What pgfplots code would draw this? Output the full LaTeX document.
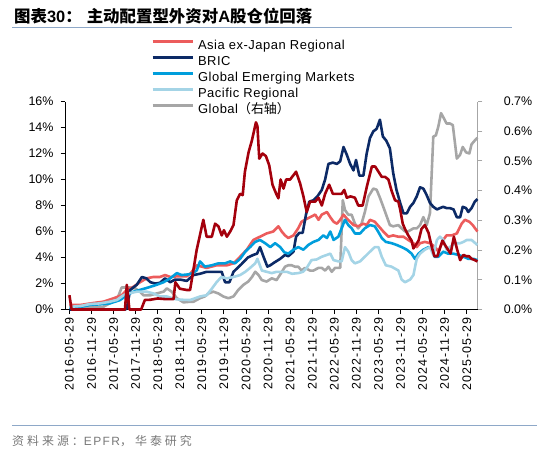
\documentclass[border=0pt]{standalone}
\usepackage{pgfplots}
\pgfplotsset{compat=1.18}
\usepackage{fontspec}
\setmainfont{Liberation Sans}
\newfontfamily\cjk{Noto Sans CJK SC}
\newfontfamily\xlab{Liberation Sans}[LetterSpace=8]
\newfontfamily\leg{Liberation Sans}[LetterSpace=4]
\newfontfamily\srccjk{Noto Sans CJK SC}[LetterSpace=25]
\newfontfamily\srclat{Liberation Sans}[LetterSpace=12]

\definecolor{asia}{RGB}{236,92,92}
\definecolor{bric}{RGB}{12,42,102}
\definecolor{gem}{RGB}{0,158,220}
\definecolor{pac}{RGB}{164,212,230}
\definecolor{glob}{RGB}{166,166,166}
\definecolor{dred}{RGB}{164,0,12}
\definecolor{rulec}{RGB}{142,168,200}
\definecolor{srcgray}{RGB}{120,120,120}

% x = months since 2016-05
\pgfplotsset{base/.style={
  at={(65bp,-309.5bp)}, anchor=south west,
  scale only axis, width=412.8bp, height=208bp,
  xmin=-1.2, xmax=111, clip=false,
  tick align=outside, major tick length=4.5bp,
  ticklabel style={font=\fontsize{12.5}{14}\selectfont},
  every axis plot/.append style={line width=2.6bp, line join=round},
}}

\begin{document}
\begin{tikzpicture}

% right axis: Global
\begin{axis}[base,
  ymin=0, ymax=0.7,
  axis x line=none, axis y line*=right,
  y axis line style={-, glob, line width=1bp},
  ytick style={glob, line width=1bp},
  ytick={0,0.1,0.2,0.3,0.4,0.5,0.6,0.7},
  yticklabels={0.0\%,0.1\%,0.2\%,0.3\%,0.4\%,0.5\%,0.6\%,0.7\%},
  yticklabel style={xshift=18bp},
]
\addplot[glob] coordinates {
(0,0.009) (9.2,0.009) (11,0.021) (12.9,0.032) (14.2,0.074) (16.5,0.074) (17.9,0.071)
(19.2,0.060) (20.1,0.048) (22,0.048) (23.7,0.054) (25.6,0.060) (26.5,0.071) (27.8,0.060)
(29.2,0.038) (31,0.024) (32.8,0.026) (33.7,0.026) (35.5,0.038) (36.8,0.044) (37.8,0.054)
(39.1,0.060) (40.5,0.054) (41.8,0.044) (43.2,0.038) (44.6,0.044) (45.9,0.066) (47.3,0.083)
(48.6,0.094) (49.6,0.109) (50.5,0.127) (51.4,0.116) (52.3,0.099) (53.6,0.094) (55,0.105)
(56.3,0.099) (57.3,0.118) (58.6,0.144) (59.5,0.149) (60.4,0.149) (61.3,0.144) (62.2,0.144)
(63.1,0.131) (64,0.140) (65.4,0.131) (66.3,0.131) (67.7,0.140) (68.6,0.140) (69.5,0.131)
(70.4,0.144) (71.3,0.127) (72.2,0.140) (73.6,0.140) (74.3,0.368) (74.9,0.335) (75.8,0.319)
(76.7,0.319) (77.6,0.289) (78.5,0.273) (79.4,0.289) (80.3,0.328) (81.3,0.381) (82.6,0.407)
(83.5,0.403) (84.4,0.376) (85.3,0.346) (86.2,0.315) (87.1,0.284) (88,0.280) (89.4,0.284)
(90.3,0.273) (91.2,0.263) (92.1,0.263) (93.5,0.273) (94.4,0.273) (95.3,0.284) (96.2,0.311)
(97.1,0.284) (98,0.324) (98.9,0.582) (99.6,0.586) (100.3,0.617) (101,0.661) (101.8,0.643)
(102.5,0.626) (103.4,0.626) (104.2,0.621) (105.3,0.508) (106.2,0.521) (106.9,0.547)
(107.8,0.529) (108.7,0.525) (109.3,0.556) (110.2,0.569) (110.9,0.578)
};
\end{axis}

% left axis
\begin{axis}[base,
  ymin=0, ymax=16,
  axis y line*=left, axis x line*=bottom,
  axis line style={-, black, line width=1bp},
  tick style={black, line width=1bp},
  ytick={0,2,4,6,8,10,12,14,16},
  yticklabels={0\%,2\%,4\%,6\%,8\%,10\%,12\%,14\%,16\%},
  yticklabel style={xshift=-3.5bp},
  xtick={0,6,...,108},
  xticklabels={2016-05-29,2016-11-29,2017-05-29,2017-11-29,2018-05-29,2018-11-29,
    2019-05-29,2019-11-29,2020-05-29,2020-11-29,2021-05-29,2021-11-29,2022-05-29,
    2022-11-29,2023-05-29,2023-11-29,2024-05-29,2024-11-29,2025-05-29},
  xticklabel style={rotate=90, anchor=east, font=\xlab\fontsize{12.5}{14}\selectfont},
  legend style={at={(axis description cs:0.208,1.299)}, anchor=north west,
    draw=none, fill=none, inner sep=0pt, row sep=3.65bp, column sep=4bp,
    font=\leg\fontsize{13}{15}\selectfont,
    nodes={inner sep=0pt, text height=9.5bp, text depth=3bp}},
  legend cell align=left,
  legend image code/.code={\draw[#1, line width=3bp] (0bp,4.5bp) -- (40bp,4.5bp);},
]
\addplot[asia] coordinates {
(0,0.35) (3,0.35) (6.5,0.5) (9.2,0.6) (12,0.86) (14.2,1.1) (15.6,1.5) (17.4,1.75)
(19.2,2.1) (21,2.4) (22.8,2.5) (24.6,2.5) (26,2.65) (27.4,2.5) (29.2,2.55) (31.9,2.55)
(33,2.8) (34.6,3.4) (37.3,3.2) (40,3.4) (42.8,3.4) (44.6,3.55) (46.4,4.06) (48.2,4.6)
(50,5.35) (51.8,5.6) (53.6,5.85) (55.4,6.0) (56.8,6.4) (57.7,6.0) (58.6,5.7) (59.5,5.5)
(60.9,5.7) (62.2,6.25) (63.1,6.75) (64,6.9) (65.4,7.1) (66.8,7.3) (67.7,6.9) (68.6,7.3)
(70,7.5) (70.9,7.1) (71.8,6.75) (72.7,6.6) (73.6,6.9) (74.5,7.3) (75.4,7.0) (76.3,6.75)
(77.2,6.5) (78.5,6.4) (79.9,6.6) (80.8,6.5) (81.7,6.9) (83,6.75) (84.4,6.3) (85.3,6.0)
(86.7,5.6) (88,5.7) (89.4,5.6) (90.8,5.6) (92.1,5.35) (93.5,5.1) (94.4,4.8) (95.3,5.1)
(96.6,5.2) (98,5.1) (99.4,4.8) (100.3,4.45) (101.6,5.35) (102.5,5.7) (103.9,5.7)
(105.3,5.85) (106.6,6.6) (107.5,6.9) (108.7,6.75) (109.6,6.5) (110.9,6.0)
};
\addlegendentry{Asia ex-Japan Regional}
\addplot[bric] coordinates {
(0,0) (15.2,0) (15.6,0.1) (16.5,1.5) (18.3,1.9) (19.7,2.5) (20.9,2.4) (22,2.1) (23.3,2.0)
(24.6,2.05) (26,2.4) (27.4,2.1) (28.7,2.3) (30.1,2.3) (31.9,2.2) (33.7,2.65) (35.5,2.75)
(37.3,2.9) (39.5,2.9) (41.4,2.9) (42.3,2.1) (43.5,2.1) (44.6,2.9) (46.8,3.5) (48.5,4.0)
(50,4.2) (51,4.3) (51.8,4.8) (52.7,4.1) (53.8,3.3) (54.6,3.4) (55.6,3.6) (57.3,3.9)
(58.6,4.2) (59.5,4.1) (60.3,4.3) (60.9,4.45) (61.6,5.6) (62.5,5.9) (63.4,5.9) (64.3,7.3)
(65.2,8.3) (66.3,8.4) (67.4,8.7) (68.6,9.2) (69.5,10.0) (70.4,11.2) (71.6,11.3) (72.7,11.2)
(73.6,11.4) (74.5,12.5) (75.4,11.9) (76.3,11.2) (77.2,10.7) (77.9,11.5) (78.8,10.3)
(79.9,10.3) (80.8,12.0) (81.7,13.2) (82.6,13.7) (83.5,13.9) (84.4,14.6) (85.2,13.3)
(86.1,13.0) (87.1,12.4) (88,10.5) (88.9,9.2) (89.9,8.2) (90.8,7.4) (91.7,7.4) (92.6,7.9)
(93.5,8.2) (94.4,8.7) (95.3,9.4) (96.2,9.3) (97.1,8.8) (98,8.2) (98.9,7.9) (99.9,7.7)
(100.7,7.8) (101.6,7.9) (102.5,7.8) (103.4,7.8) (104.4,7.7) (105.3,7.1) (106.2,7.1)
(106.9,7.9) (107.8,7.8) (108.4,7.5) (109.3,7.8) (110.2,8.3) (110.9,8.5)
};
\addlegendentry{BRIC}
\addplot[gem] coordinates {
(0,0.15) (3,0.2) (5.6,0.35) (8.3,0.4) (11,0.47) (13.8,0.73) (15.6,1.1) (17.4,1.37)
(19.7,1.55) (21.5,1.7) (23.7,1.9) (25.6,2.1) (27.4,2.4) (29.2,2.8) (30.5,2.65) (32.3,2.7)
(33.5,2.8) (34.6,3.0) (35.5,3.7) (36.8,3.3) (38.7,3.4) (40.5,3.55) (42.3,3.55) (43.7,3.7)
(45,3.55) (46.4,3.9) (47.8,4.45) (49.1,4.8) (50.5,5.2) (51.8,5.35) (53.2,5.1) (54.6,4.8)
(55.9,5.1) (57.3,4.8) (58.4,4.4) (59.5,4.3) (60.9,4.6) (62.2,4.8) (63.6,4.6) (64.9,4.96)
(66.3,5.2) (67.7,5.35) (69,5.7) (70,5.5) (70.9,6.0) (71.8,5.35) (73.1,5.6) (74,6.25)
(74.9,6.9) (75.8,6.5) (76.7,6.25) (77.6,5.85) (79,5.85) (80.3,6.25) (81.7,6.5) (83,6.4)
(83.9,6.0) (84.9,5.5) (86,5.2) (87.6,5.1) (89,4.96) (90.3,4.8) (91.7,4.6) (93,4.3)
(93.9,3.9) (94.9,4.3) (96.2,4.6) (97.6,4.8) (98.5,4.7) (99.2,4.06) (100.3,4.06)
(101.6,4.45) (102.9,4.3) (104.3,4.3) (105.7,4.2) (107.1,4.06) (108.4,3.9) (109.8,3.9)
(110.9,3.8)
};
\addlegendentry{Global Emerging Markets}
\addplot[pac] coordinates {
(0,0.2) (3,0.27) (5.6,0.42) (8.3,0.47) (11,0.6) (12.9,0.73) (14.7,1.1) (16,1.24)
(18.3,1.37) (21,1.37) (22.8,1.24) (24.6,1.0) (26.5,1.0) (28.7,0.8) (30.5,0.75) (32.8,0.73)
(35.5,1.0) (37.3,1.1) (38.7,1.6) (40,2.1) (41.3,2.5) (42.8,2.4) (44.6,2.5) (46.4,2.65)
(47.8,2.9) (49.1,3.2) (50.5,3.55) (51.1,3.9) (52.3,3.0) (53.6,2.9) (55,2.8) (56.3,2.9)
(57.7,2.9) (59.1,2.9) (60.5,2.75) (62.2,2.8) (63.5,2.9) (64.5,3.2) (65.8,3.8) (67.2,3.85)
(68.6,4.06) (70,4.2) (70.9,4.3) (71.8,3.8) (73.1,3.7) (74,3.7) (74.9,4.8) (75.8,4.45)
(76.7,3.8) (77.6,3.55) (79,3.7) (80.3,4.06) (81.7,4.45) (83,4.8) (84,4.8) (84.9,4.06)
(86,3.4) (87.5,3.3) (89.4,3.0) (90.3,2.3) (91.2,2.1) (92.6,2.3) (93.5,2.65) (94.4,3.9)
(95.3,4.3) (96.6,4.6) (98,4.8) (98.9,4.2) (99.9,5.35) (100.7,5.6) (101.6,5.35)
(102.5,4.6) (103.4,4.8) (104.8,5.1) (106.2,5.1) (107.1,5.2) (108,5.35) (109.3,5.35)
(110.9,4.96)
};
\addlegendentry{Pacific Regional}
\addlegendimage{glob}
\addlegendentry{Global{\cjk （右轴）}}
\addplot[dred, forget plot] coordinates {
(0,1.1) (0.6,0) (15.1,0) (15.6,1.9) (16.3,0) (19.5,0) (20.5,0.73) (22,0.75) (24,0.85)
(26,0.8) (28.3,0.8) (28.8,2.1) (30,1.6) (31.9,1.5) (32.8,1.5) (34.6,4.6) (36.4,6.9)
(37.3,5.6) (38.7,5.6) (39.6,6.6) (40.5,6.4) (41.4,5.7) (42,6.1) (42.8,5.6) (43.7,6.0)
(44.6,6.5) (45.5,8.4) (46.4,8.9) (47.1,8.8) (47.7,10.6) (48.7,12.1) (49.6,13.0)
(50.7,14.4) (51.1,14.1) (51.6,11.6) (52.5,12.0) (53.4,11.8) (54.3,11.1) (55.2,9.6)
(56.2,8.9) (56.8,8.55) (57.4,10.0) (58.2,9.3) (58.9,10.0) (60,10.0) (61.6,10.6)
(62.7,9.7) (63.6,8.7) (64.5,7.5) (65.4,8.3) (66.8,8.3) (67.7,8.6) (68.6,8.0) (69.5,8.9)
(70.6,9.6) (71.6,8.9) (72.7,8.9) (74,8.9) (74.7,9.2) (75.4,8.6) (76.4,8.7) (77.6,8.6)
(78.5,8.0) (79.7,8.0) (80.8,9.4) (82.2,11.0) (83.1,11.0) (84,10.6) (84.9,10.2)
(85.8,10.2) (86.7,10.0) (87.6,9.1) (88.5,8.4) (89.4,8.3) (89.9,7.7) (90.6,6.6) (91.2,6.2)
(92.1,5.7) (93,5.3) (93.5,4.7) (94.2,5.0) (94.9,5.3) (95.7,6.2) (96.6,6.5) (97.6,5.9)
(98.5,4.8) (99.2,4.1) (100,4.1) (100.7,4.7) (101.4,5.3) (102,5.0) (102.9,4.6) (103.6,4.3)
(104.5,5.6) (105.3,4.7) (106.2,3.8) (107.1,4.2) (107.8,4.1) (108.6,4.1) (109.3,3.9)
(110.2,3.8) (110.9,3.7)
};
\end{axis}

% title, rules and source
\node[anchor=base west, inner sep=0pt] at (14bp,-22bp)
  {\bfseries\fontsize{16.5}{18}\selectfont{\cjk 图表}30{\cjk ：}\hspace{5bp}{\cjk 主动配置型外资对}A{\cjk 股仓位回落}};
\draw[rulec, line width=1.3bp] (12bp,-27.5bp) -- (512bp,-27.5bp);
\draw[rulec, line width=1.3bp] (12bp,-425.7bp) -- (537bp,-425.7bp);
\node[anchor=base west, inner sep=0pt, text=srcgray] at (12bp,-445bp)
  {\fontsize{12}{14}\selectfont{\srccjk 资料来源：}{\srclat EPFR}{\srccjk ，华泰研究}};

\pgfresetboundingbox
\useasboundingbox (0bp,0bp) rectangle (550bp,-452bp);
\end{tikzpicture}
\end{document}
